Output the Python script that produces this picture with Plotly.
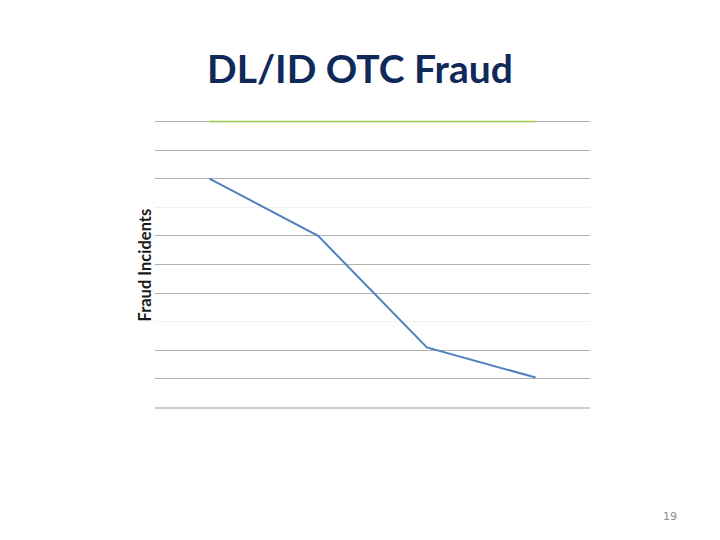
import plotly.graph_objects as go

# chart data
periods = ["P1", "P2", "P3", "P4"]
fraud_incidents = [8.0, 6.0, 2.1, 1.05]
baseline = [10, 10, 10, 10]

major_ticks = [1, 2, 4, 5, 6, 8, 9, 10]
faint_ticks = [3, 7]

fig = go.Figure()

fig.add_trace(go.Scatter(
    x=periods, y=baseline,
    mode='lines',
    line=dict(color='#9cc84a', width=1.5),
    hoverinfo='skip',
    showlegend=False,
))
fig.add_trace(go.Scatter(
    x=periods, y=fraud_incidents,
    mode='lines',
    line=dict(color='#4f81bd', width=2),
    showlegend=False,
))

fig.update_layout(
    width=720, height=540,
    paper_bgcolor='white',
    plot_bgcolor='white',
    margin=dict(l=147, r=138, t=112, b=139),
    font=dict(family='Lato, sans-serif'),
    xaxis=dict(
        range=[-0.5, 3.5],
        showticklabels=False,
        showgrid=False,
        showline=False,
        zeroline=False,
        ticks='',
    ),
    yaxis=dict(
        range=[-0.05, 10.05],
        tickvals=major_ticks,
        showticklabels=False,
        showgrid=True,
        gridcolor='#b0b0b0',
        gridwidth=1,
        zeroline=True,
        zerolinecolor='#cdcdcd',
        zerolinewidth=2,
        showline=False,
        ticks='',
        minor=dict(tickvals=faint_ticks, showgrid=True,
                   gridcolor='#f0f0f0', gridwidth=1),
    ),
    annotations=[
        dict(text='<b>DL/ID OTC Fraud</b>', xref='paper', yref='paper',
             x=0.472, y=1.0, yshift=52, xanchor='center', yanchor='middle',
             showarrow=False,
             font=dict(size=39, color='#0f2a5a', family='Lato, sans-serif')),
        dict(text='<b>Fraud Incidents</b>', xref='paper', yref='paper',
             x=-0.023, y=0.5, xanchor='center', yanchor='middle',
             textangle=-90, showarrow=False,
             font=dict(size=16.5, color='#1a1a1a', family='Lato, sans-serif')),
        dict(text='19', xref='paper', yref='paper',
             x=1.0, y=0.0, xshift=80, yshift=-107,
             xanchor='center', yanchor='middle', showarrow=False,
             font=dict(size=11, color='#8a8a8a', family='DejaVu Sans, sans-serif')),
    ],
)

fig.write_html("out.html")
